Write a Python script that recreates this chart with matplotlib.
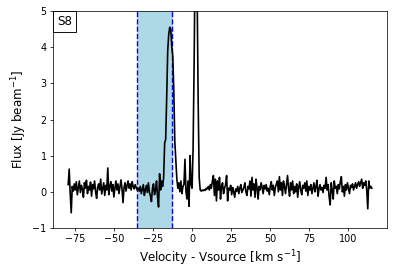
import numpy as np
import matplotlib
matplotlib.use("Agg")
import matplotlib.pyplot as plt
from matplotlib.offsetbox import AnchoredText

# Spectrum (flux in Jy/beam), channels evenly spaced from v_start to v_end
v_start, v_end = -79.5, 115.0

flux_west = [0.20, 0.63, -0.05, -0.58, 0.15, 0.02, 0.22, 0.05, 0.28, -0.08, 0.12, 0.30, -0.02, 0.18,
             0.08, -0.15, 0.25, 0.10, 0.32, -0.05, 0.15, 0.05, 0.27, -0.12, 0.20, 0.08, 0.30, 0.00,
             -0.18, 0.12, 0.22, 0.05, 0.35, -0.06, 0.10, 0.25, -0.10, 0.18, 0.05, 0.66, -0.08, 0.14,
             0.28, 0.02, 0.20, -0.14, 0.10, 0.30, 0.05, 0.22, -0.05, 0.15, 0.33, 0.08, -0.30, 0.12,
             0.25, 0.02, 0.18, 0.30, 0.10, 0.22, 0.05, 0.28, 0.15, 0.08, 0.20, 0.12, 0.05]

flux_band = [0.10, 0.02, 0.15, -0.05, 0.08, 0.20, -0.10, 0.05, 0.18, -0.02, 0.25, 0.00, -0.12,
             -0.27, 0.10, 0.22, -0.08, 0.05, 0.30, -0.15, -0.42, 0.50, 0.05, 0.30, 0.15, 0.40]

flux_lines = [1.35, 1.45, 2.6, 3.9, 4.35, 4.55, 4.5, 4.0, 3.75, 2.8, 1.4, 0.85, 0.35, 0.10, 0.25,
              0.00, 0.30, -0.05, 0.15, 0.20, 0.90, 0.00, -0.20, 0.30, -0.40, 1.00, 0.20, 0.10,
              1.2, 3.5, 6.5, 8.0, 5.5, 2.5, 0.4, 0.05]

flux_east = [0.02, 0.05, 0.03, 0.06, 0.04, 0.10, 0.08, 0.15, 0.05, 0.20, 0.10, 0.30,
             0.45,
             -0.10, 0.35, -0.25, 0.30, 0.05, 0.40, -0.20, 0.15, 0.25, -0.05, 0.10, 0.20,
             0.45,
             -0.25, 0.10, 0.05, 0.18, -0.08, 0.12, 0.00, -0.15, 0.08, 0.02, 0.15, -0.05, 0.10,
             0.20, -0.02, 0.05, 0.12, 0.25, 0.00, -0.10, 0.15, 0.08, 0.30, -0.12, 0.40, 0.05,
             0.22, -0.15, 0.35, 0.10, -0.20, 0.15, 0.05, 0.25, 0.12, -0.05, 0.18, 0.08, 0.20,
             0.02, 0.10, -0.08, 0.15, 0.28, 0.05, 0.18, -0.10, 0.12, 0.22, 0.30, 0.00,
             0.42,
             0.05, 0.25, -0.10, 0.30, 0.15, -0.05, 0.20,
             0.45,
             0.10, -0.12, 0.25, 0.05, 0.30, -0.05, 0.15, 0.00, 0.22, -0.15, 0.12, 0.28, 0.05,
             -0.08, 0.18, 0.10, 0.25, 0.02, 0.30, -0.10, 0.15, 0.05, 0.20, -0.05, 0.10, 0.25,
             0.00, 0.15, 0.32, -0.12, 0.08, 0.20, 0.05, 0.12, -0.02, 0.18, 0.10,
             0.40,
             0.05, 0.20, -0.15,
             -0.36,
             0.25, 0.05, -0.20, 0.30, 0.10, 0.15, -0.05, 0.20, 0.08, 0.28,
             0.42,
             0.00, 0.15, -0.12, 0.20, 0.05, 0.25, 0.10, -0.05, 0.18, 0.12, 0.22, 0.05, 0.15,
             0.25, 0.10, 0.20, 0.28, 0.15, 0.25,
             0.35,
             0.10, 0.25, 0.18, 0.30, 0.05,
             -0.47,
             0.30, 0.10, 0.15, 0.10]

band_lo, band_hi = -35.3, -12.9
source_label = "S8"

flux = np.array(flux_west + flux_band + flux_lines + flux_east)
vel = np.linspace(v_start, v_end, len(flux))

fig = plt.figure(figsize=(394 / 66, 276 / 66), dpi=66)
ax = fig.add_axes([53 / 394, 1 - 228 / 276, (387 - 53) / 394, (228 - 11) / 276])

ax.axvspan(band_lo, band_hi, color="lightblue", zorder=1)
ax.axvline(band_lo, color="blue", ls="--", lw=1.5, zorder=2)
ax.axvline(band_hi, color="blue", ls="--", lw=1.5, zorder=2)
ax.plot(vel, flux, color="black", lw=1.8, zorder=3)

ax.set_ylim(-1, 5)
ax.set_xticks([-75, -50, -25, 0, 25, 50, 75, 100])
ax.set_yticks([-1, 0, 1, 2, 3, 4, 5])
ax.set_xlabel("Velocity - Vsource [km s$^{-1}$]", fontsize=13)
ax.set_ylabel("Flux [Jy beam$^{-1}$]", fontsize=13)
ax.tick_params(labelsize=10.5)

at = AnchoredText(source_label, loc="upper left", borderpad=0, pad=0.35, prop=dict(size=13))
ax.add_artist(at)

fig.savefig("out.png", dpi=66)
